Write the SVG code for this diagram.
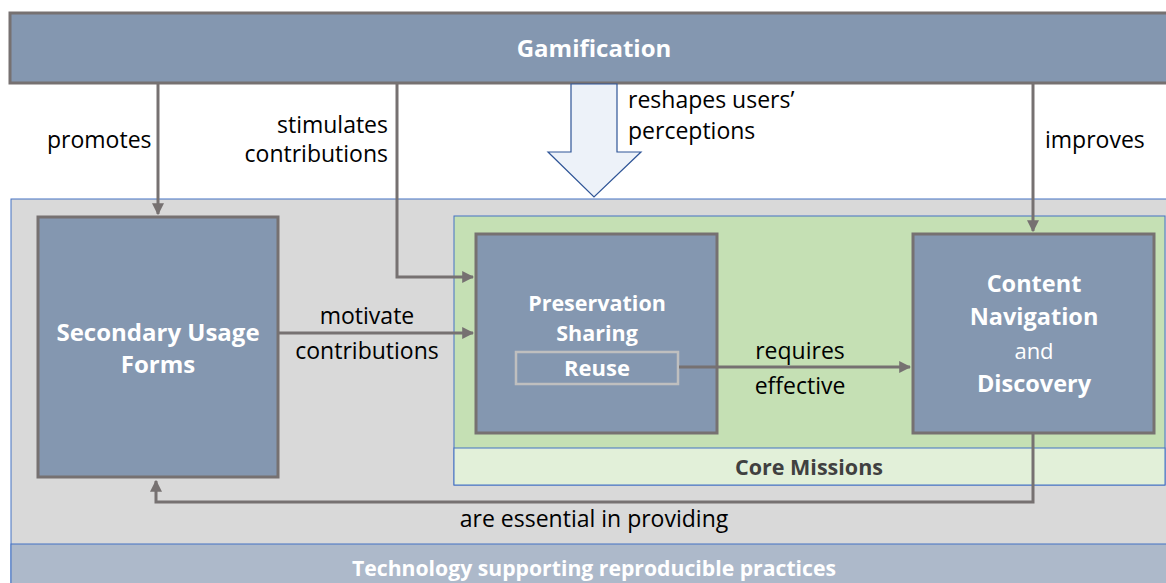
<svg xmlns="http://www.w3.org/2000/svg" width="1166" height="583" viewBox="0 0 1166 583">
<style>
.node{fill:#8497B0;stroke:#767171;stroke-width:3}
.wt{fill:#fff;font-family:"Open Sans","Liberation Sans",sans-serif;font-weight:bold;font-size:22px;text-anchor:middle}
.lb{fill:#000;font-family:"Open Sans","Liberation Sans",sans-serif;font-size:23px}
.con{fill:none;stroke:#767171;stroke-width:3}
</style>
<defs>
<marker id="ah" viewBox="0 0 10 10" refX="9" refY="5" markerWidth="4" markerHeight="4" orient="auto" markerUnits="strokeWidth">
<path d="M0,0 L10,5 L0,10 z" fill="#767171"/>
</marker>
</defs>
<rect width="1166" height="583" fill="#fff"/>
<g id="technology-region">
<rect x="11" y="199" width="1165" height="400" fill="#D9D9D9" stroke="#4472C4" stroke-width="1"/>
<rect x="11" y="544" width="1165" height="50" fill="#ADB9CA" stroke="#4472C4" stroke-width="1"/>
<text class="wt" x="594" y="576" style="font-size:21.2px">Technology supporting reproducible practices</text>
</g>
<g id="core-missions">
<rect x="454" y="216" width="711" height="269" fill="#C5E0B4" stroke="#4472C4" stroke-width="1"/>
<rect x="454" y="448" width="711" height="37" fill="#E2F0D9" stroke="#4472C4" stroke-width="1"/>
<text class="wt" x="809" y="475" style="fill:#404040;font-size:21.5px">Core Missions</text>
</g>
<g id="gamification">
<rect class="node" x="10" y="13" width="1170" height="70"/>
<text class="wt" x="594" y="57" style="font-size:24px">Gamification</text>
</g>
<g id="secondary-usage">
<rect class="node" x="38" y="217" width="240" height="260"/>
<text class="wt" x="158" y="341" style="font-size:24px">Secondary Usage</text>
<text class="wt" x="158" y="373" style="font-size:24px">Forms</text>
</g>
<g id="preservation">
<rect class="node" x="476" y="234" width="241" height="199"/>
<text class="wt" x="597" y="311" style="font-size:21.5px">Preservation</text>
<text class="wt" x="597" y="341" style="font-size:21.5px">Sharing</text>
<rect x="516" y="352" width="162" height="32" fill="#8497B0" stroke="#BFBFBF" stroke-width="2.5"/>
<text class="wt" x="597" y="376">Reuse</text>
</g>
<g id="content-navigation">
<rect class="node" x="913" y="234" width="241" height="199"/>
<text class="wt" x="1034" y="292" style="font-size:23.5px">Content</text>
<text class="wt" x="1034" y="325" style="font-size:23.5px">Navigation</text>
<text class="wt" x="1034" y="359" style="font-weight:normal;font-size:22px">and</text>
<text class="wt" x="1034" y="392" style="font-size:23.5px">Discovery</text>
</g>
<g id="connectors">
<path class="con" d="M158,84 V214" marker-end="url(#ah)"/>
<path class="con" d="M397,84 V277 H473" marker-end="url(#ah)"/>
<path class="con" d="M1033,84 V231" marker-end="url(#ah)"/>
<path class="con" d="M279,333 H473" marker-end="url(#ah)"/>
<path class="con" d="M679,367 H910" marker-end="url(#ah)"/>
<path class="con" d="M1033,434 V502 H156 V481" marker-end="url(#ah)"/>
<path d="M571,84 H617 V152 H641 L594,197 L548,152 H571 Z" fill="#EDF2F9" stroke="#2F5597" stroke-width="1.2"/>
<text class="lb" x="47" y="148">promotes</text>
<text class="lb" x="388" y="133" text-anchor="end">stimulates</text>
<text class="lb" x="388" y="162" text-anchor="end">contributions</text>
<text class="lb" x="628" y="108">reshapes users’</text>
<text class="lb" x="628" y="139">perceptions</text>
<text class="lb" x="1045" y="148">improves</text>
<text class="lb" x="367" y="324" text-anchor="middle">motivate</text>
<text class="lb" x="367" y="359" text-anchor="middle">contributions</text>
<text class="lb" x="800" y="359" text-anchor="middle">requires</text>
<text class="lb" x="800" y="394" text-anchor="middle">effective</text>
<text class="lb" x="594" y="527" text-anchor="middle">are essential in providing</text>
</g>
</svg>
